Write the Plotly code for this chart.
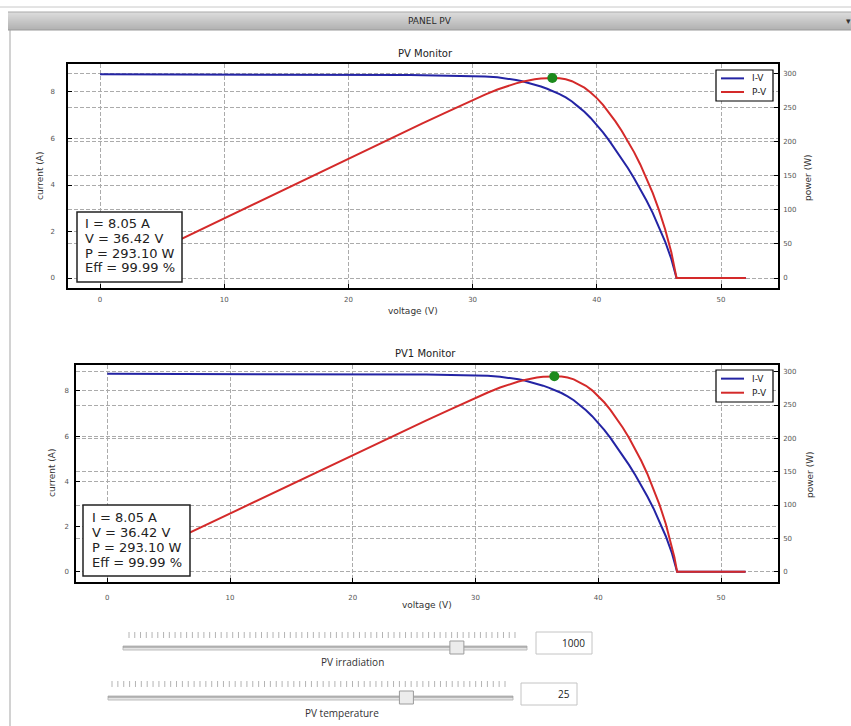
import plotly.graph_objects as go

# ---- figure size (pixels) ----
W, H = 851, 726

# ---- PV module I-V / P-V characteristic ----
voltage = [0, 2, 4, 6, 8, 10, 12, 14, 16, 18, 20, 22, 24, 25, 26, 28, 29, 30,
           31, 32, 32.5, 33, 33.5, 34, 34.5, 35, 35.5, 36, 36.42, 36.5, 37,
           37.5, 38, 38.5, 39, 39.5, 40, 40.5, 41, 41.5, 42, 42.5, 43, 43.5,
           44, 44.5, 45, 45.5, 46, 46.2, 46.42, 47, 48, 50, 52]
current = [8.76, 8.76, 8.76, 8.76, 8.76, 8.755, 8.755, 8.75, 8.75, 8.75,
           8.745, 8.74, 8.735, 8.73, 8.725, 8.71, 8.70, 8.69, 8.67, 8.63,
           8.60, 8.56, 8.515, 8.46, 8.395, 8.32, 8.235, 8.14, 8.05, 8.025,
           7.91, 7.765, 7.59, 7.37, 7.15, 6.885, 6.59, 6.265, 5.91, 5.53,
           5.14, 4.73, 4.29, 3.825, 3.33, 2.80, 2.22, 1.57, 0.82, 0.47, 0.0,
           0.0, 0.0, 0.0, 0.0]
power = [0.0, 17.52, 35.04, 52.56, 70.08, 87.55, 105.06, 122.5, 140.0, 157.5,
         174.9, 192.28, 209.64, 218.25, 226.85, 243.88, 252.3, 260.7, 268.77,
         276.16, 279.5, 282.48, 285.25, 287.64, 289.63, 291.2, 292.34, 293.04,
         293.10, 292.91, 292.67, 291.19, 288.42, 283.75, 278.85, 271.96, 263.6,
         253.73, 242.31, 229.5, 215.88, 201.03, 184.47, 166.39, 146.52, 124.6,
         99.9, 71.44, 37.72, 21.71, 0.0, 0.0, 0.0, 0.0, 0.0]

# maximum power point and efficiency readout
mpp_voltage = 36.42
mpp_current = 8.05
mpp_power = 293.10
efficiency = 99.99

# panel inputs
irradiation = 1000
temperature = 25
irradiation_range = (0, 1210)
temperature_range = (-45, 50)

# tick values
voltage_ticks = [0, 10, 20, 30, 40, 50]
current_ticks = [0, 2, 4, 6, 8]
power_ticks = [0, 50, 100, 150, 200, 250, 300]

panel_titles = ["PV Monitor", "PV1 Monitor"]
series_names = ["I-V", "P-V"]


def px(x):
    return x / W


def py(y):
    return 1 - y / H


BLUE = "#2424a4"
RED = "#d42a2a"
GREEN = "#1c8a1c"
DV = "DejaVu Sans"
TICKFONT = dict(family=DV, size=7, color="#555555")
LABELFONT = dict(family=DV, size=9, color="#333333")
GRID = dict(showgrid=True, gridcolor="#ababab", griddash="4px,2px", gridwidth=1,
            zeroline=False, ticks="inside", ticklen=4, tickcolor="black",
            tickfont=TICKFONT, showline=True, linecolor="black", linewidth=1.5)

# plot frames in pixels: (left, top, right, bottom) and axis ranges
panels = [
    dict(frame=(68, 64, 778, 288), xr=[-2.58, 54.59], yr=[-0.43, 9.204], pr=[-14.66, 313.6],
         xstand=4, ystand=10, legend_box=(716, 70, 773, 101), text_box=(77, 212, 182, 282),
         text_x=83, text_y=[223, 238, 253, 268], vlabel=(413, 311), clabel=(40, 176),
         plabel=(808, 178), title=(425, 54)),
    dict(frame=(76, 365, 778, 582), xr=[-2.55, 54.64], yr=[-0.456, 9.15], pr=[-15.45, 310.0],
         xstand=8, ystand=4, legend_box=(716, 370, 773, 402), text_box=(83, 505, 190, 576),
         text_x=90, text_y=[517, 532, 547, 562], vlabel=(427, 605), clabel=(52, 473),
         plabel=(810, 475), title=(425, 353)),
]

fig = go.Figure()
layout = dict(width=W, height=H, autosize=False, margin=dict(l=0, r=0, t=0, b=0),
              paper_bgcolor="white", plot_bgcolor="white", showlegend=False)
annotations = []
shapes = []


def text(x, y, s, font, xanchor="center", angle=0):
    annotations.append(dict(xref="paper", yref="paper", x=px(x), y=py(y), text=s,
                            xanchor=xanchor, yanchor="middle", showarrow=False,
                            textangle=angle, font=font))


def rect(x0, y0, x1, y1, fill, line=None, lw=0):
    shapes.append(dict(type="rect", xref="paper", yref="paper", x0=px(x0), x1=px(x1),
                       y0=py(y1), y1=py(y0), fillcolor=fill,
                       line=dict(color=line or fill, width=lw), layer="above"))


def seg(x0, y0, x1, y1, color, width=1):
    shapes.append(dict(type="line", xref="paper", yref="paper", x0=px(x0), x1=px(x1),
                       y0=py(y0), y1=py(y1), line=dict(color=color, width=width), layer="above"))


for k, p in enumerate(panels):
    xa = "x" if k == 0 else "x2"
    ya = "y" if k == 0 else "y3"
    pa = "y2" if k == 0 else "y4"
    l, t, r, b = p["frame"]

    fig.add_trace(go.Scatter(x=voltage, y=current, mode="lines", name=series_names[0],
                             line=dict(color=BLUE, width=2), xaxis=xa, yaxis=ya))
    fig.add_trace(go.Scatter(x=voltage, y=power, mode="lines", name=series_names[1],
                             line=dict(color=RED, width=2), xaxis=xa, yaxis=pa))
    fig.add_trace(go.Scatter(x=[mpp_voltage], y=[mpp_power], mode="markers", name="MPP",
                             marker=dict(color=GREEN, size=10), xaxis=xa, yaxis=pa))

    xkey = "xaxis" if k == 0 else "xaxis2"
    ykey = "yaxis" if k == 0 else "yaxis3"
    pkey = "yaxis2" if k == 0 else "yaxis4"
    layout[xkey] = dict(GRID, domain=[px(l), px(r)], range=p["xr"], tickvals=voltage_ticks,
                        anchor=ya, mirror=True, ticklabelstandoff=p["xstand"])
    layout[ykey] = dict(GRID, domain=[py(b), py(t)], range=p["yr"], tickvals=current_ticks,
                        anchor=xa, mirror=True, ticklabelstandoff=p["ystand"])
    layout[pkey] = dict(GRID, domain=[py(b), py(t)], range=p["pr"], tickvals=power_ticks,
                        anchor=xa, overlaying=ya, side="right", ticklabelstandoff=2)

    # legend box
    lx0, ly0, lx1, ly1 = p["legend_box"]
    rect(lx0, ly0, lx1, ly1, "white", "black", 1.2)
    rows = [ly0 + (ly1 - ly0) * 0.27, ly0 + (ly1 - ly0) * 0.71]
    for name, color, yy in zip(series_names, [BLUE, RED], rows):
        seg(lx0 + 5, yy, lx0 + 28, yy, color, 2)
        text(lx0 + 34, yy, name, dict(family=DV, size=9, color="#222"), xanchor="left")

    # maximum power point readout
    bx0, by0, bx1, by1 = p["text_box"]
    rect(bx0, by0, bx1, by1, "white", "#222222", 1.5)
    lines = [f"I = {mpp_current:.2f} A", f"V = {mpp_voltage:.2f} V",
             f"P = {mpp_power:.2f} W", f"Eff = {efficiency:.2f} %"]
    for s, yy in zip(lines, p["text_y"]):
        text(p["text_x"], yy, s, dict(family=DV, size=13, color="#222"), xanchor="left")

    text(*p["vlabel"], "voltage (V)", LABELFONT)
    text(*p["clabel"], "current (A)", LABELFONT, angle=-90)
    text(*p["plabel"], "power (W)", LABELFONT, angle=-90)
    text(*p["title"], panel_titles[k], dict(family=DV, size=10, color="#222"))


# window frame and the "PANEL PV" header bar
seg(0, 7, W, 7, "#c8c8c8", 1)
seg(10, 30, 10, H, "#d2d2d2", 2)
bar_top, bar_bot = 12, 30
for i in range(bar_bot - bar_top):
    g = int(0xdc - (0xdc - 0xb2) * i / (bar_bot - bar_top - 1))
    rect(8, bar_top + i, W, bar_top + i + 1, f"rgb({g},{g},{g})")
seg(8, bar_top, W, bar_top, "#a8a8a8", 1)
seg(8, bar_bot, W, bar_bot, "#9a9a9a", 1)
text(430, 21, "PANEL PV", dict(family=DV, size=9, color="#2a2a2a"))
text(848, 21, "▾", dict(family=DV, size=9, color="#333"))

# input sliders with value boxes
sliders = [
    dict(value=irradiation, vrange=irradiation_range, track=(123, 527, 648), ticks=(129, 515, 635),
         box=(536, 632, 592, 654), label="PV irradiation", label_pos=(352, 662)),
    dict(value=temperature, vrange=temperature_range, track=(108, 513, 698), ticks=(112, 505, 684),
         box=(521, 683, 577, 705), label="PV temperature", label_pos=(342, 713)),
]
for s in sliders:
    x0, x1, ty = s["track"]
    rect(x0, ty - 2, x1, ty + 2, "#e4e4e4", "#bdbdbd", 1)
    seg(x0, ty - 1, x1, ty - 1, "#8c8c8c", 1)
    t0, t1, tky = s["ticks"]
    n = 68
    path = ""
    for i in range(n):
        xx = px(t0 + (t1 - t0) * i / (n - 1))
        path += f"M{xx:.5f},{py(tky - 3):.5f}L{xx:.5f},{py(tky + 3):.5f}"
    shapes.append(dict(type="path", xref="paper", yref="paper", path=path,
                       line=dict(color="#b4b4b4", width=1), layer="above"))
    lo, hi = s["vrange"]
    hx = x0 + (x1 - x0) * (s["value"] - lo) / (hi - lo)
    rect(hx - 7, ty - 7, hx + 7, ty + 6, "#ececec", "#9c9c9c", 1)
    bx0, by0, bx1, by1 = s["box"]
    rect(bx0, by0, bx1, by1, "white", "#c4c4c4", 1)
    text(bx1 - 5, (by0 + by1) / 2, str(s["value"]),
         dict(family="Open Sans", size=10, color="#222"), xanchor="right")
    text(*s["label_pos"], s["label"], dict(family="Open Sans", size=10, color="#333"))

layout["annotations"] = annotations
layout["shapes"] = shapes
fig.update_layout(**layout)

fig.write_html("out.html")
